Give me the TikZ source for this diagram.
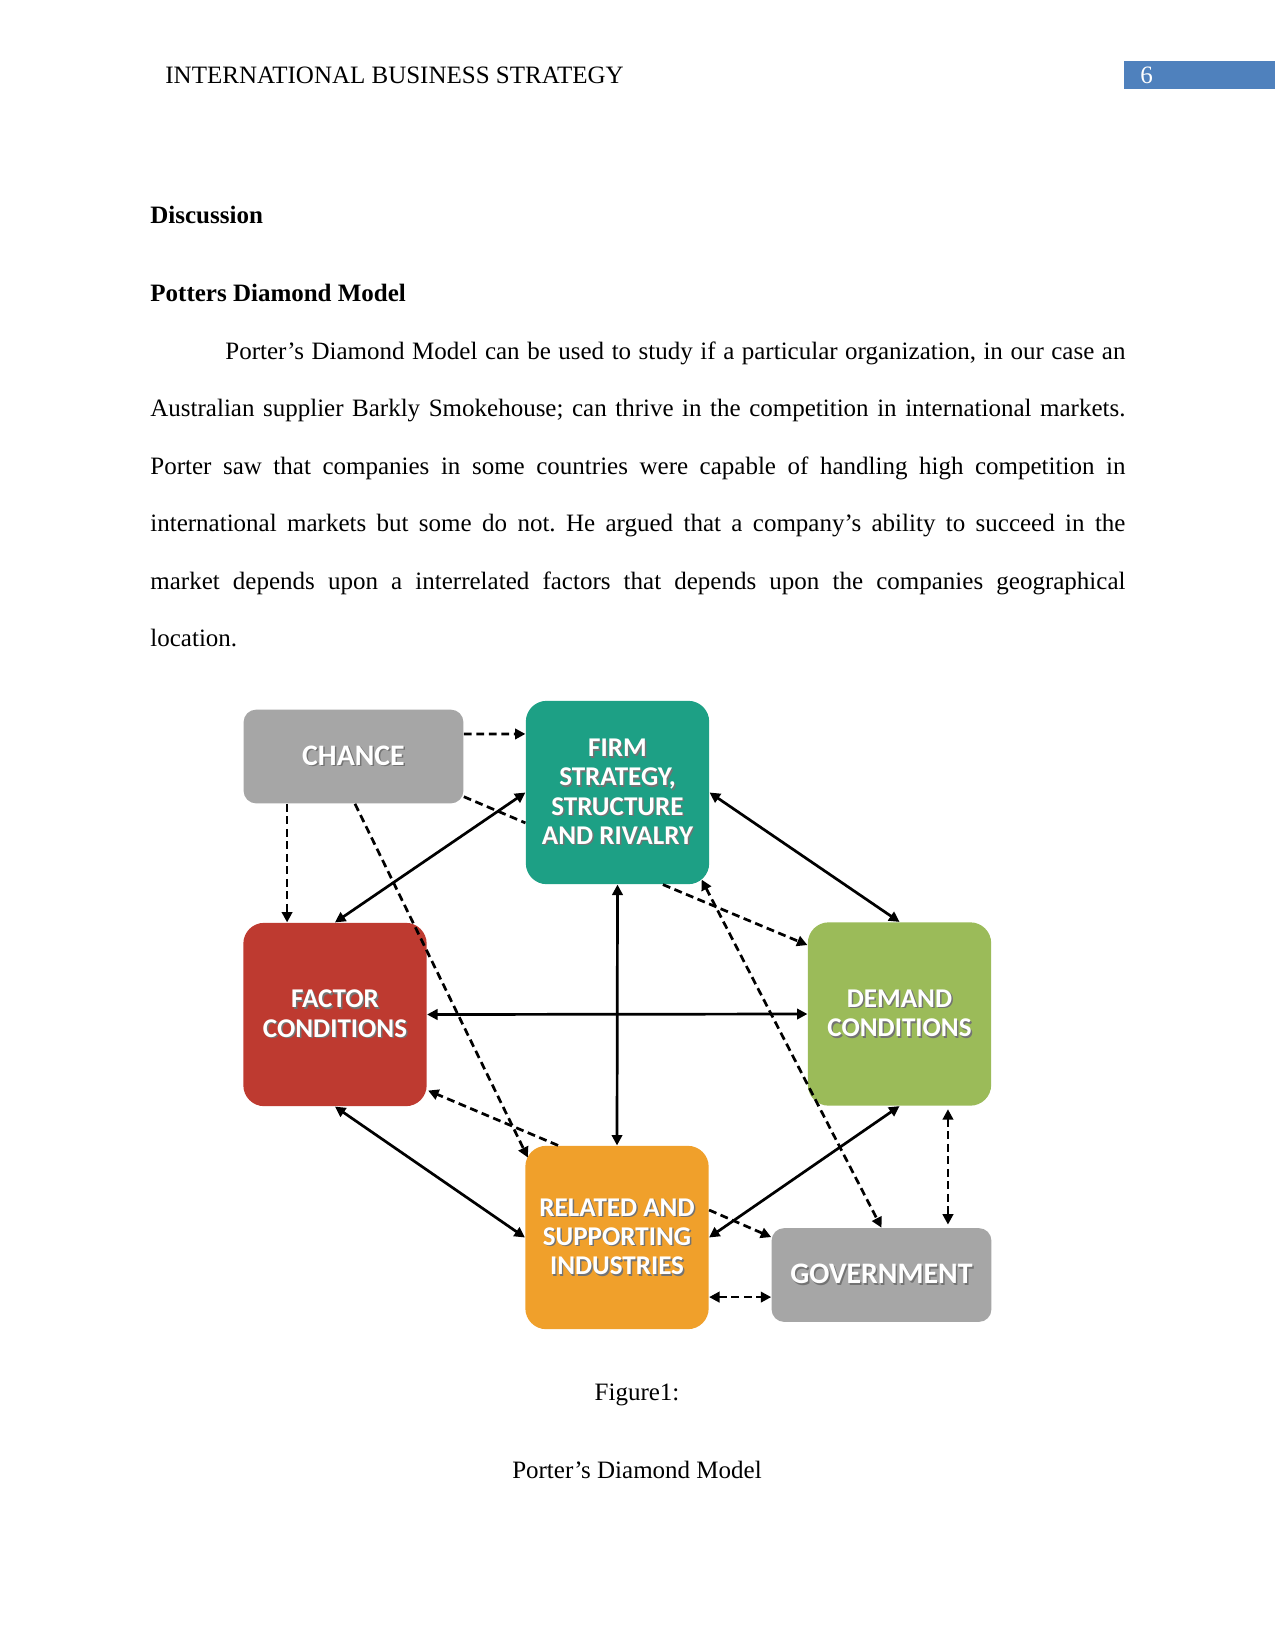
\documentclass[tikz,border=0pt]{standalone}
\usepackage{fontspec}
\setmainfont{Liberation Serif}
\newfontfamily\boxfont{Carlito}
\usetikzlibrary{arrows.meta}
\frenchspacing

\definecolor{headblue}{HTML}{4F81BD}
\definecolor{chancegray}{HTML}{A6A6A6}
\definecolor{firmteal}{HTML}{1DA085}
\definecolor{factorred}{HTML}{BE3A30}
\definecolor{demandgreen}{HTML}{9BBB59}
\definecolor{relatedorange}{HTML}{F0A02B}

% white box text with a dark drop shadow
\newcommand\shtxt[1]{\leavevmode\rlap{\kern0.7pt\raisebox{-0.7pt}{\textcolor{black!55}{#1}}}#1}

\begin{document}
\begin{tikzpicture}[
  x=0.48pt, y=-0.48pt,
  page/.style={inner sep=0pt, font=\fontsize{12}{13.8}\selectfont},
  bigbox/.style={rounded corners=10pt, minimum width=88pt, minimum height=88pt,
                 inner sep=0pt, align=center, text=white,
                 font=\boxfont\bfseries\fontsize{13}{14}\selectfont},
  smallbox/.style={bigbox, rounded corners=6pt, minimum width=105.5pt,
                   minimum height=45pt, font=\boxfont\bfseries\fontsize{14.3}{15}\selectfont},
  arr/.style={line width=1.3pt, -{Triangle[length=5pt,width=5pt]}},
  twoway/.style={line width=1.3pt,
                 {Triangle[length=5pt,width=5pt]}-{Triangle[length=5pt,width=5pt]}},
  broken/.style={dash pattern=on 3.8pt off 2.2pt}
]
\useasboundingbox[fill=white] (0,0) rectangle (1275,1651);

% page header
\fill[headblue] (1124,61) rectangle (1275,89);
\node[page, anchor=base west] (header) at (165,84) {INTERNATIONAL BUSINESS STRATEGY};
\node[page, anchor=base west, text=white] (pagenum) at (1140,84) {6};

% headings and paragraph
\node[page, anchor=base west, font=\fontsize{12}{13.8}\selectfont\bfseries] (disc) at (150,223) {Discussion};
\node[page, anchor=base west, font=\fontsize{12}{13.8}\selectfont\bfseries] (pdm) at (150,301) {Potters Diamond Model};
\node[page, anchor=base west] (line1) at (225,359)
  {\makebox[432pt][s]{Porter’s Diamond Model can be used to study if a particular organization, in our case an}};
\node[page, anchor=base west] (line2) at (150,416.5)
  {\makebox[468pt][s]{Australian supplier Barkly Smokehouse; can thrive in the competition in international markets.}};
\node[page, anchor=base west] (line3) at (150,474)
  {\makebox[468pt][s]{Porter saw that companies in some countries were capable of handling high competition in}};
\node[page, anchor=base west] (line4) at (150,531.5)
  {\makebox[468pt][s]{international markets but some do not. He argued that a company’s ability to succeed in the}};
\node[page, anchor=base west] (line5) at (150,589)
  {\makebox[468pt][s]{market depends upon a interrelated factors that depends upon the companies geographical}};
\node[page, anchor=base west] (line6) at (150,646.5) {location.};

% diamond boxes
\node[smallbox, fill=chancegray] (chance) at (353.5,756.5) {\shtxt{CHANCE}};
\node[bigbox, fill=firmteal] (firm) at (617.5,792.5)
  {\shtxt{FIRM}\\\shtxt{STRATEGY,}\\\shtxt{STRUCTURE}\\\shtxt{AND RIVALRY}};
\node[bigbox, fill=factorred] (factor) at (335,1014.5) {\shtxt{FACTOR}\\\shtxt{CONDITIONS}};
\node[bigbox, fill=demandgreen] (demand) at (899.5,1014) {\shtxt{DEMAND}\\\shtxt{CONDITIONS}};
\node[bigbox, fill=relatedorange] (related) at (617,1237.5)
  {\shtxt{RELATED AND}\\\shtxt{SUPPORTING}\\\shtxt{INDUSTRIES}};
\node[smallbox, fill=chancegray] (gov) at (881.5,1275) {\shtxt{GOVERNMENT}};

% solid links
\draw[twoway] (firm.west) -- (factor.north);
\draw[twoway] (firm.east) -- (demand.north);
\draw[twoway] (firm.south) -- (related.north);
\draw[twoway] (factor.east) -- (demand.west);
\draw[twoway] (factor.south) -- (related.west);
\draw[twoway] (related.east) -- (demand.south);

% dashed links
\draw[arr, broken] ([yshift=10.8pt]chance.east) -- ([yshift=28.1pt]firm.west);
\draw[arr, broken] ([xshift=-23pt]factor.north |- chance.south) -- ([xshift=-23pt]factor.north);
\draw[line width=1.3pt, broken] ([yshift=3.4pt]chance.south east) -- ([yshift=-14.6pt]firm.west);
\draw[arr, broken] ([xshift=0.7pt]chance.south) -- ([xshift=1.4pt,yshift=-5.8pt]related.north west);
\draw[arr, broken] ([xshift=21.8pt]firm.south) -- ([yshift=33.1pt]demand.west);
\draw[twoway, broken] ([xshift=-3.8pt,yshift=2.4pt]firm.south east) -- (gov.north);
\draw[arr, broken] ([xshift=-28.3pt]related.north) -- ([xshift=0.5pt,yshift=7.7pt]factor.south east);
\draw[twoway, broken, shorten <=1.5pt, shorten >=1.5pt]
  ([xshift=31.9pt]gov.north |- demand.south) -- ([xshift=31.9pt]gov.north);
\draw[arr, broken] ([yshift=13.2pt]related.east) -- ([yshift=18.2pt]gov.west);
\draw[twoway, broken] ([yshift=-10.6pt]gov.west -| related.east) -- ([yshift=-10.6pt]gov.west);

% caption
\node[page, anchor=base] (figlabel) at (637,1400) {Figure1:};
\node[page, anchor=base] (figtitle) at (637,1478) {Porter’s Diamond Model};
\end{tikzpicture}
\end{document}
